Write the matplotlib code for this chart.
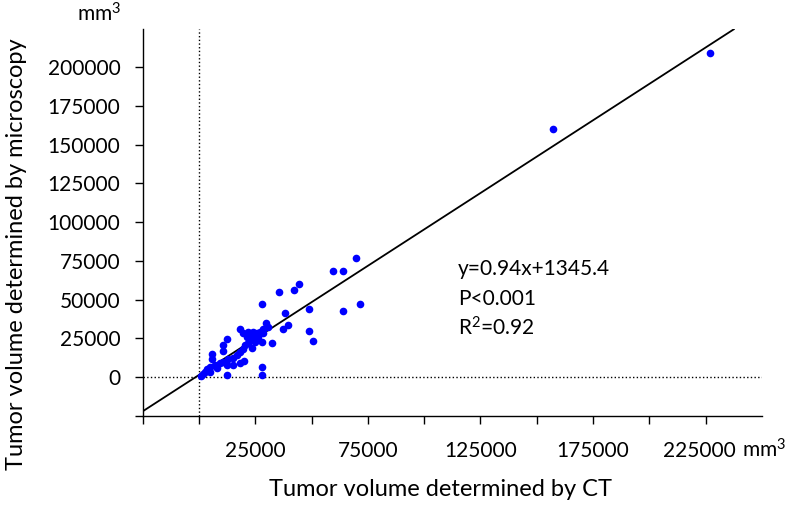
import numpy as np
import matplotlib
matplotlib.use('Agg')
import matplotlib.pyplot as plt
import matplotlib.transforms as mtransforms

# tumor volumes (mm3): CT vs microscopy
ct_volume = [227000, 157400, 69700, 59300, 64100, 44200, 42000, 35700,
             28000, 71500, 64100, 49000, 38300, 49000, 50700, 39400,
             37400, 29700, 30800, 32500, 28000, 28000, 12600, 18200,
             12600, 10700, 10700, 5800, 5800, 20100,
             1600, 800, 3400, 4900, 7100, 9300, 10800, 13000, 15200,
             16700, 18200, 19700, 20400, 21900, 22600, 23400, 21200,
             19700, 21900, 24100, 25600, 27100, 28500, 26300, 24900,
             27800, 28500, 23400, 15200, 18200, 12300, 7900, 4900, 2500]
micro_volume = [209500, 160000, 76700, 68700, 68700, 59900, 56000, 54700,
                47000, 47000, 42800, 44100, 41500, 29900, 23400, 33800,
                31200, 35100, 32500, 22200, 6500, 1100, 1100, 31000,
                24700, 20900, 17000, 14700, 11600, 10300,
                1900, 600, 5200, 6700, 7700, 8800, 9900, 11400, 12100,
                14200, 16300, 17900, 20700, 21800, 24300, 26500, 25600,
                28200, 28900, 29300, 28200, 29300, 28200, 25600, 22800,
                22800, 30800, 18500, 7700, 8800, 7700, 5600, 3400, 3000]

slope = 0.94
intercept = 1345.4
fit_x = [-25000, 237500]
stats_lines = ['y=0.94x+1345.4', 'P<0.001', 'R$^2$=0.92']

x_ticks = list(range(-25000, 250000, 25000))
x_labels = ['' if t not in (25000, 75000, 125000, 175000, 225000) else str(t)
            for t in x_ticks]
y_ticks = list(range(-25000, 225000, 25000))
y_labels = ['' if t < 0 else str(t) for t in y_ticks]

plt.rcParams['font.family'] = ['Lato', 'DejaVu Sans']
plt.rcParams['mathtext.fontset'] = 'custom'
plt.rcParams['mathtext.rm'] = 'Lato'
plt.rcParams['mathtext.it'] = 'Lato'
plt.rcParams['mathtext.default'] = 'regular'

W, H = 800, 505
fig = plt.figure(figsize=(8, 5.05), dpi=100)
ax = fig.add_axes([0.1784, 0.1768, 0.774, 0.7664])

ax.axvline(0, color='black', ls=':', lw=1)
ax.axhline(0, color='black', ls=':', lw=1)

fx = np.array(fit_x)
ax.plot(fx, slope * fx + intercept, color='black', lw=1.3)
ax.plot(ct_volume, micro_volume, 'o', color='#0000ff', ms=5.5, mec='none')

ax.set_xlim(-25000, 250000)
ax.set_ylim(-25000, 225000)
ax.set_xticks(x_ticks)
ax.set_xticklabels(x_labels)
ax.set_yticks(y_ticks)
ax.set_yticklabels(y_labels)
ax.tick_params(direction='out', length=6, width=1, labelsize=15)
ax.tick_params(axis='x', pad=12)
ax.tick_params(axis='y', pad=10)

# last x label sits a little left, unit follows it
last = ax.get_xticklabels()[-1]
last.set_transform(last.get_transform() +
                   mtransforms.ScaledTranslation(-6 / 100, 0, fig.dpi_scale_trans))

for side in ['top', 'right']:
    ax.spines[side].set_visible(False)
for side in ['left', 'bottom']:
    ax.spines[side].set_linewidth(1)

# regression stats, one line each (baselines in pixels)
for line, yb in zip(stats_lines, [275, 305, 335]):
    fig.text(458 / W, 1 - yb / H, line, fontsize=15, va='baseline', ha='left')

# unit labels
fig.text(742 / W, 1 - 457 / H, 'mm$^3$', fontsize=15, va='baseline', ha='left')
fig.text(77 / W, 1 - 22 / H, 'mm$^3$', fontsize=15, va='baseline', ha='left')

fig.text(440 / W, 1 - 489 / H, 'Tumor volume determined by CT', fontsize=17,
         ha='center', va='center')
fig.text(17 / W, 1 - 254 / H, 'Tumor volume determined by microscopy', fontsize=17,
         ha='center', va='center', rotation=90)

fig.savefig('out.png', dpi=100)
